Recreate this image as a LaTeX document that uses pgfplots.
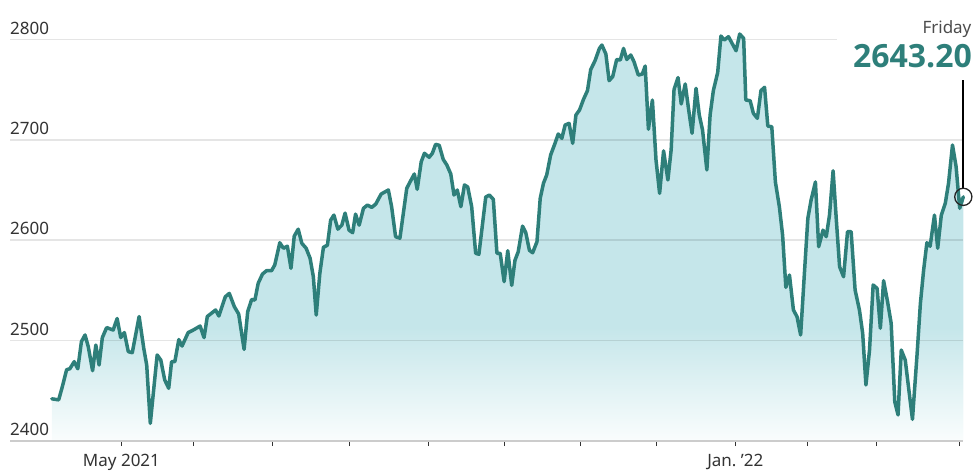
\documentclass[border=0pt]{standalone}
\usepackage{pgfplots}
\pgfplotsset{compat=1.18}
\usepackage{pgfplotstable}
\usepackage{fontspec}
\setmainfont{Noto Sans}
\newfontfamily\bignum{Open Sans}
\definecolor{linec}{RGB}{46,127,122}
\definecolor{fillc}{RGB}{197,230,234}
\definecolor{fadec}{RGB}{250,253,253}
\definecolor{tickc}{RGB}{51,51,51}
\pgfdeclareverticalshading{areafade}{100bp}{color(0bp)=(fadec); color(25bp)=(fadec); color(39bp)=(fillc); color(100bp)=(fillc)}
\pgfplotstableread{
t v
0 2442
1.9 2441
2.9 2454
4.1 2471
5.0 2472
6.2 2479
7.2 2472
8.2 2499
9.2 2505.6
10.1 2494
11.3 2470
12.2 2495.6
13.1 2475.7
14.0 2503
15.2 2513
17.0 2510.5
18.1 2522
19.1 2503
20.1 2508
21.2 2489
22.3 2488
24.2 2524
25.5 2492
26.3 2475.7
27.3 2417.6
29.2 2485.7
30.2 2480.7
31.3 2460.8
32.4 2452.5
33.2 2479
34.1 2479
35.2 2501
36.1 2494.6
37.8 2508
39.2 2510.5
41.1 2514.5
42.2 2503
43.1 2524
45.4 2530.5
46.3 2524.5
48.1 2543.7
49.2 2547
50.6 2533.8
51.8 2526.5
53.3 2491.3
54.3 2528.8
55.4 2541
56.3 2540.4
57.2 2557
58.4 2566.3
59.5 2569.6
60.9 2569.6
61.8 2575.3
63.2 2597.5
64.2 2592
65.3 2594
66.3 2572
67.2 2604
68.3 2611
69.3 2597
70.5 2592
71.6 2582
72.5 2563.6
73.3 2525.5
74.3 2567
75.3 2593
76.4 2595
77.3 2620
78.2 2625
79.3 2611
80.4 2615
81.3 2627
82.4 2610
83.4 2607.5
84.2 2626
85.2 2615
86.4 2631.8
87.5 2635
88.7 2632.7
89.8 2636
91.3 2646
93.3 2650
94.2 2633.4
95.3 2603.5
96.5 2602
98.4 2651.7
99.3 2658
100.5 2666
101.3 2650.7
102.4 2678
103.3 2686.6
104.6 2682.6
105.5 2686.6
106.4 2695.5
107.4 2694.5
108.5 2680.6
109.5 2675
110.6 2666
111.5 2645
112.4 2650
113.4 2633.4
114.4 2655
115.3 2653
116.4 2633.4
117.5 2587
118.4 2586
120.3 2643
121.3 2645
122.4 2640.7
123.4 2587
124.3 2587
125.4 2558.7
126.4 2589.5
127.5 2555
128.4 2580
129.3 2588.5
130.5 2614
131.4 2607.5
132.4 2590
133.3 2587.5
134.5 2598.5
135.4 2641.7
136.3 2656.7
137.2 2665
138.3 2685
139.5 2696.5
140.4 2705.8
141.4 2701.5
142.3 2714.7
143.4 2716.4
144.4 2696.5
145.3 2724.7
146.3 2729.7
147.4 2740.3
148.5 2749
149.4 2770
150.6 2778.8
151.8 2791
152.5 2794.4
153.6 2785.5
154.5 2758.9
155.5 2763
156.6 2780
157.6 2779.5
158.5 2791
159.4 2780
160.5 2784.5
161.4 2777.8
162.6 2764.5
163.7 2765.5
164.5 2773.5
165.4 2710.5
166.5 2739.6
167.5 2680
168.5 2646.7
169.6 2689
170.8 2660
171.7 2690
172.5 2750
173.6 2762
174.5 2735.7
175.6 2755.6
176.5 2731.4
177.5 2706.5
178.6 2751.3
179.5 2724.7
180.4 2709.8
181.6 2670
182.5 2724.7
183.4 2749
184.6 2767
185.5 2803.4
186.4 2799.4
187.6 2802.7
188.5 2796.7
189.7 2788.7
190.7 2805.4
191.8 2801
192.4 2739.6
193.6 2739
194.5 2726.4
195.6 2721.4
196.6 2749
197.6 2752.3
198.5 2713.7
199.6 2713
200.6 2658
201.7 2633.4
202.6 2605
203.5 2553
204.5 2565.3
205.6 2530.5
206.6 2523.8
207.6 2505.6
208.7 2570.3
209.6 2621.8
210.5 2640
211.7 2658
212.6 2593.5
213.8 2610
214.7 2603.5
215.6 2625
216.6 2669.2
217.5 2620
218.4 2573.6
219.5 2563.6
220.6 2608.5
221.6 2608.5
222.7 2550.4
223.9 2530.5
224.8 2507.3
225.7 2455.8
226.7 2490.6
227.7 2555.4
228.8 2552
229.7 2512.3
230.6 2559.7
231.7 2538.7
232.7 2517.2
233.7 2439
234.6 2426
235.5 2490.6
236.6 2480.7
237.5 2454
238.6 2421.6
239.9 2487.4
240.8 2537
241.7 2570.3
242.6 2597.5
243.5 2594
244.7 2625
245.6 2592
246.6 2625
247.7 2636.7
248.6 2656.7
249.7 2694.8
250.7 2673.2
251.7 2631.8
252.7 2643.2
}\idx
\begin{document}
\begin{tikzpicture}
\begin{axis}[
  at={(10pt,34pt)}, anchor=south west, scale only axis,
  width=953.3pt, height=431.7pt,
  xmin=-11.6, xmax=252.7, ymin=2400, ymax=2830,
  set layers, clip=false,
  axis x line*=bottom, axis y line*=left,
  x axis line style={draw=black!20, line width=1.8pt, -},
  y axis line style={draw=none},
  xtick={19.3,39.3,61.2,82.4,104.4,125.4,146.5,167.5,189.5,209.6,228.6,251.7},
  xticklabels={May 2021,,,,,,,,{Jan.\ ’22},,,},
  ytick={2400,2500,2600,2700,2800},
  ymajorgrids, major grid style={draw=black, opacity=0.1, line width=1.6pt},
  tick align=outside, major tick length=5pt,
  xtick style={draw=tickc, line width=0.9pt},
  ytick style={draw=none},
  every tick label/.append style={font=\fontsize{17}{20}\selectfont, text=tickc},
  /pgf/number format/assume math mode=true,
  /pgf/number format/1000 sep={},
  yticklabel style={anchor=south west, inner sep=0pt, xshift=5pt, yshift=5pt},
  xticklabel style={yshift=-5pt},
]
\addplot[draw=none, shading=areafade, on layer=axis background] table[x=t,y=v] {\idx}
  -- (axis cs:252.7,2400) -- (axis cs:0,2400) -- cycle;
\addplot[linec, line width=3.5pt, line join=round, line cap=round, mark=none] table[x=t,y=v] {\idx};
\fill[white] (axis cs:217.7,2790) rectangle (axis cs:256,2812);
\draw[black, line width=1.8pt] ([yshift=8.6pt]axis cs:252.7,2643.2) -- (axis cs:252.7,2759.6);
\addplot[only marks, mark=o, mark size=8.6pt, mark options={draw=black!85, line width=1.3pt}] coordinates {(252.7,2643.2)};
\node[anchor=base east, inner sep=0pt, text=linec, font=\bignum\fontsize{32}{36}\selectfont\bfseries] at (axis cs:255.1,2772.5) {2643.20};
\node[anchor=base east, inner sep=0pt, text=black!70, font=\fontsize{17}{20}\selectfont] at (axis cs:255,2805.5) {Friday};
\end{axis}
\path (0,0) rectangle (976pt,475pt);
\end{tikzpicture}
\end{document}
